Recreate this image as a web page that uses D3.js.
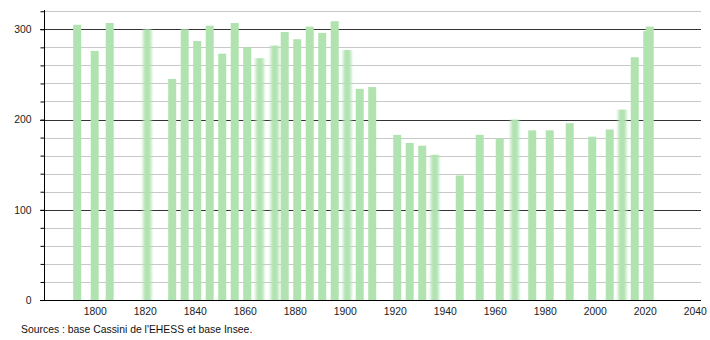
<!DOCTYPE html>
<html><head><meta charset="utf-8">
<script src="https://cdn.jsdelivr.net/npm/d3@7"></script>
<style>body{margin:0;background:#fff}svg{display:block}</style>
</head><body><svg id="c" width="710" height="340"></svg>
<script>
const years = [1793,1800,1806,1821,1831,1836,1841,1846,1851,1856,1861,1866,1872,1876,1881,1886,1891,1896,1901,1906,1911,1921,1926,1931,1936,1946,1954,1962,1968,1975,1982,1990,1999,2006,2011,2016,2021,2022];
const population = [305,276,307,300,245,300,287,304,273,307,280,268,282,297,289,303,296,309,277,234,236,183,174,171,161,138,183,179,200,188,188,196,181,189,211,269,298,303];
const yTicks = [0,100,200,300];
const xTicks = [1800,1820,1840,1860,1880,1900,1920,1940,1960,1980,2000,2020,2040];
const softYears = [1821,1866,1872,1901,1936,1968,2011];
const source = "Sources : base Cassini de l'EHESS et base Insee.";

const svg = d3.select("#c");
const font = "'Liberation Sans', Arial, sans-serif";
const x = d3.scaleLinear().domain([1780, 2042.5]).range([44.7, 701]);
const y = d3.scaleLinear().domain([0, 300]).range([300, 29.3]);

const defs = svg.append("defs");
defs.append("filter").attr("id","soft").attr("x","-50%").attr("width","200%")
  .append("feGaussianBlur").attr("stdDeviation","1.6 0.6");

// gridlines
const minor = d3.range(20, 321, 20).filter(v => v % 100 !== 0);
svg.append("g").selectAll("line").data(minor).join("line")
  .attr("x1", 44).attr("x2", 701).attr("y1", d => Math.round(y(d))+0.5).attr("y2", d => Math.round(y(d))+0.5)
  .attr("stroke", "#c8c8c8").attr("stroke-width", 1);

// major gridlines
svg.append("g").selectAll("line").data(yTicks.filter(v => v > 0)).join("line")
  .attr("x1", 40).attr("x2", 701).attr("y1", d => Math.round(y(d))+0.5).attr("y2", d => Math.round(y(d))+0.5)
  .attr("stroke", "#333").attr("stroke-width", 1);

// bars
svg.append("g").selectAll("rect").data(years).join("rect")
  .attr("x", (d) => x(d) - 4).attr("width", 8)
  .attr("y", (d,i) => y(population[i])).attr("height", (d,i) => y(0) - y(population[i]))
  .attr("fill", "#b1e3b1")
  .attr("filter", d => softYears.includes(d) ? "url(#soft)" : null);

// y axis
const yAxis = d3.axisLeft(y).tickValues(d3.range(0, 321, 20)).tickSize(4)
  .tickFormat(d => yTicks.includes(d) ? d : "");
const ya = svg.append("g").attr("transform", "translate(44.5,0)").call(yAxis);
ya.select(".domain").remove();
ya.append("line").attr("x1",0).attr("x2",0).attr("y1",10).attr("y2",300).attr("stroke","#000");
ya.selectAll("text").attr("font-family", font).attr("font-size", 10.4).attr("fill", "#222").attr("x", -13);
ya.selectAll(".tick line").attr("stroke", "#000");

// x axis
const xAxis = d3.axisBottom(x).tickValues(xTicks).tickSize(0).tickFormat(d3.format("d"));
const xa = svg.append("g").attr("transform", "translate(0,300.5)").call(xAxis);
xa.select(".domain").remove();
xa.append("line").attr("x1", 40).attr("x2", 701).attr("stroke", "#000");
xa.selectAll("text").attr("font-family", font).attr("font-size", 10.4).attr("fill", "#222").attr("dy", "1.1em");

svg.append("text").attr("x", 21).attr("y", 333).attr("font-family", font).attr("font-size", 10.4)
  .attr("fill", "#111").text(source);
</script></body></html>
